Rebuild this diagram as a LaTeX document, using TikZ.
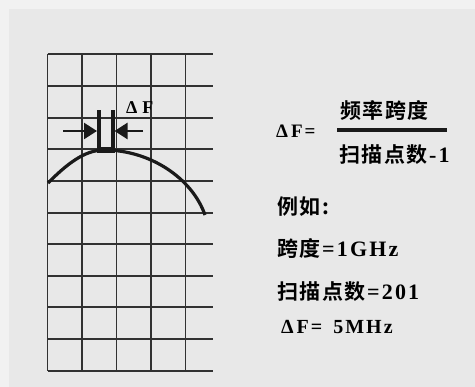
\documentclass[tikz,border=0pt]{standalone}
\usepackage{fontspec}
\setmainfont[LetterSpace=10]{Liberation Serif}
\newfontfamily\cjk[LetterSpace=7]{Noto Sans CJK SC Bold}
\newcommand{\lat}[1]{\textrm{\bfseries\fontsize{22}{22}\selectfont #1}}
\usetikzlibrary{arrows.meta}
\definecolor{bgmain}{HTML}{E8E8E8}
\definecolor{bgedge}{HTML}{F1F1F1}
\definecolor{ink}{HTML}{1A1A1A}
\tikzset{
  gridline/.style={draw=ink!90, line width=1.4pt},
  txt/.style={anchor=west, inner sep=0pt, font=\bfseries\fontsize{20}{20}\selectfont},
  cn/.style={anchor=west, inner sep=0pt, font=\cjk\fontsize{21}{21}\selectfont},
  pointer/.style={draw=ink, line width=2.4pt, -{Triangle[length=13pt,width=16pt]}},
}
\begin{document}
\begin{tikzpicture}[x=1pt,y=-1pt]
\useasboundingbox (0,0) rectangle (475,387);
\fill[bgedge] (0,0) rectangle (475,387);
\fill[bgmain] (9,9) rectangle (475,387);
% grid
\foreach \yy in {54,86,118,149,181,213,244,276,307,339,371}
  \draw[gridline] (47.5,\yy) -- (213,\yy);
\foreach \xx in {47.5,82,116.5,151,185.5}
  \draw[gridline] (\xx,54) -- (\xx,371);
% curve
\draw[ink, line width=3.2pt] (48,183) .. controls (66,165) and (84,150) .. (104,150)
  .. controls (150,150) and (192,178) .. (205,215);
% bars
\fill[ink] (97,110) rectangle (101,152);
\fill[ink] (110.5,110) rectangle (114.5,152);
\fill[ink] (97,147) rectangle (114.5,153);
% arrows
\coordinate (la) at (63,131);
\coordinate (lb) at (97,131);
\coordinate (ra) at (143,131);
\coordinate (rb) at (114.5,131);
\draw[pointer] (la) -- (lb);
\draw[pointer] (ra) -- (rb);
\node[txt, font=\bfseries\fontsize{18}{18}\selectfont] (df) at (126,108) {Δ\hspace{5pt}F};
% formula
\node[txt, font=\bfseries\fontsize{19}{19}\selectfont] (dfeq) at (276,131) {Δ\hspace{3pt}F=};
\draw[ink, line width=3.2pt] (337,130) -- (447,130);
\node[cn] (num) at (340,111) {频率跨度};
\node[cn] (den) at (339,155) {扫描点数\lat{-1}};
% example
\node[cn] (ex) at (277,207) {例如:};
\node[cn] (span) at (277,249) {跨度\lat{=1GHz}};
\node[cn] (pts) at (277,292) {扫描点数\lat{=201}};
\node[txt] (res) at (281,327) {Δ\hspace{3pt}F=\hspace{11pt}5MHz};
\end{tikzpicture}
\end{document}
